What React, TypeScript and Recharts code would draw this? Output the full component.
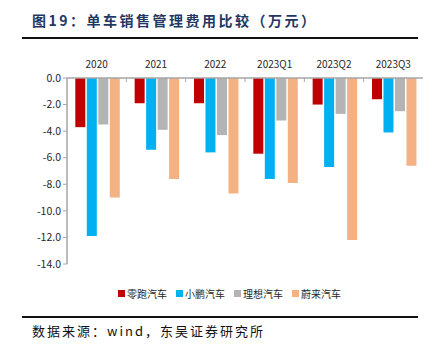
import { BarChart, Bar, XAxis, YAxis } from "recharts";

const CATEGORIES = ["2020", "2021", "2022", "2023Q1", "2023Q2", "2023Q3"];
const LEAPMOTOR = [-3.7, -1.9, -1.9, -5.7, -2.0, -1.6];
const XPENG = [-11.9, -5.4, -5.6, -7.6, -6.7, -4.1];
const LIAUTO = [-3.5, -3.9, -4.3, -3.2, -2.7, -2.5];
const NIO = [-9.0, -7.6, -8.7, -7.9, -12.2, -6.6];
const Y_TICKS = [0, -2, -4, -6, -8, -10, -12, -14];

const SERIES = [
  { key: "leap", name: "零跑汽车", color: "#C00000", values: LEAPMOTOR },
  { key: "xpeng", name: "小鹏汽车", color: "#00B0F0", values: XPENG },
  { key: "li", name: "理想汽车", color: "#B4B4B4", values: LIAUTO },
  { key: "nio", name: "蔚来汽车", color: "#F4B183", values: NIO },
];

const AXIS_COLOR = "#A6A6A6";
const FONT = "'Noto Sans CJK SC', 'Noto Sans', sans-serif";

function CategoryTick(props: any) {
  const { x, y, payload } = props;
  const half = payload?.offset ?? 0;
  return (
    <g>
      <text x={x} y={y - 10} textAnchor="middle" fontSize={10} fill="#262626" fontFamily={FONT}>
        {payload.value}
      </text>
      {payload.index > 0 && (
        <line x1={x - half} x2={x - half} y1={y} y2={y + 4} stroke={AXIS_COLOR} strokeWidth={1} />
      )}
    </g>
  );
}

export default function App() {
  const data = CATEGORIES.map((c, i) => {
    const row: Record<string, string | number> = { name: c };
    for (const s of SERIES) row[s.key] = s.values[i];
    return row;
  });

  return (
    <div
      style={{
        position: "absolute",
        left: 0,
        top: 0,
        width: 434,
        height: 354,
        background: "#fff",
        fontFamily: FONT,
      }}
    >
      <div
        style={{
          position: "absolute",
          left: 32,
          top: 10,
          fontSize: 14,
          fontWeight: 700,
          color: "#1F3864",
          letterSpacing: 2.5,
          whiteSpace: "nowrap",
        }}
      >
        图19：单车销售管理费用比较（万元）
      </div>
      <div style={{ position: "absolute", left: 22, top: 37, width: 396, height: 2, background: "#111" }} />

      <div style={{ position: "absolute", left: 0, top: 0 }}>
        <BarChart
          width={434}
          height={354}
          data={data}
          margin={{ top: 58, right: 11, left: 0, bottom: 90 }}
          barCategoryGap="14%"
          barGap={1.5}
        >
          <XAxis
            dataKey="name"
            orientation="top"
            height={20}
            tickLine={false}
            tickSize={0}
            tickMargin={0}
            axisLine={{ stroke: AXIS_COLOR, strokeWidth: 1.5 }}
            tick={<CategoryTick />}
            interval={0}
          />
          <YAxis
            width={67}
            domain={[-14, 0]}
            ticks={Y_TICKS}
            interval={0}
            tickFormatter={(v: number) => v.toFixed(1)}
            tick={{ fontSize: 10.5, fill: "#262626", fontFamily: FONT }}
            axisLine={{ stroke: AXIS_COLOR, strokeWidth: 1.5 }}
            tickLine={{ stroke: AXIS_COLOR }}
            tickSize={4}
          />
          {SERIES.map((s) => (
            <Bar key={s.key} dataKey={s.key} name={s.name} fill={s.color} isAnimationActive={false} />
          ))}
        </BarChart>
      </div>

      <div
        style={{
          position: "absolute",
          left: 118,
          top: 286,
          display: "flex",
          gap: 9,
          fontSize: 10,
          color: "#262626",
          whiteSpace: "nowrap",
        }}
      >
        {SERIES.map((s) => (
          <div key={s.key} style={{ display: "flex", alignItems: "center" }}>
            <span style={{ width: 7, height: 7, background: s.color, marginRight: 2, display: "inline-block" }} />
            <span>{s.name}</span>
          </div>
        ))}
      </div>

      <div style={{ position: "absolute", left: 22, top: 316, width: 396, height: 2, background: "#111" }} />
      <div
        style={{
          position: "absolute",
          left: 32,
          top: 321,
          fontSize: 13,
          color: "#111",
          letterSpacing: 2,
          whiteSpace: "nowrap",
        }}
      >
        数据来源：wind，东吴证券研究所
      </div>
    </div>
  );
}
